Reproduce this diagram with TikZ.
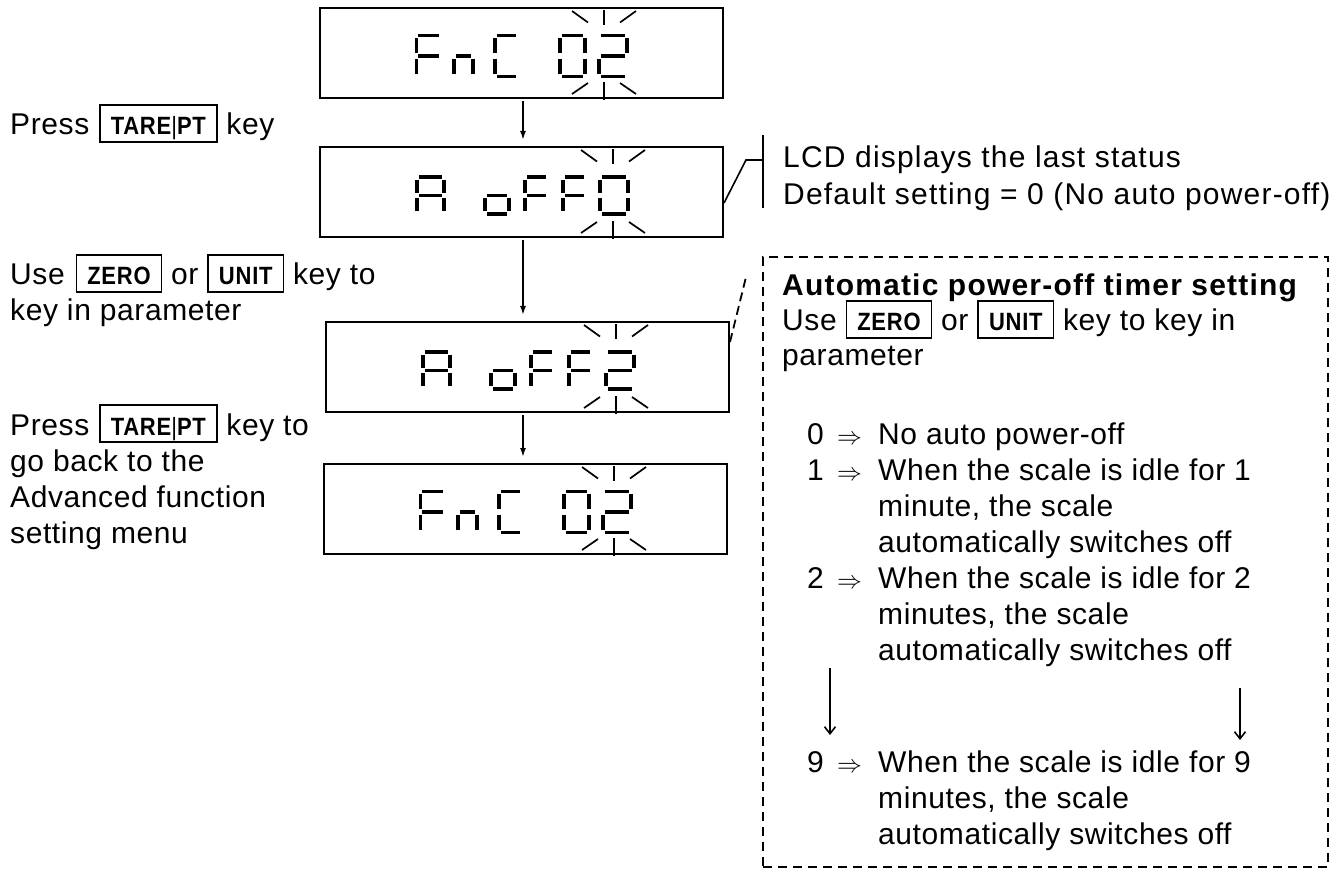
\documentclass[tikz,border=0pt]{standalone}
\usepackage{fontspec}
\setmainfont{Liberation Sans}[LetterSpace=2]
\newfontfamily\keyfont{Liberation Sans}[LetterSpace=3,FakeStretch=0.88]
\newfontfamily\widefont{Liberation Sans}[LetterSpace=4]
\usetikzlibrary{arrows.meta}

\newcommand{\kb}[1]{{\setlength{\fboxsep}{0pt}\setlength{\fboxrule}{1.6pt}\fbox{\rule[-6pt]{0pt}{35pt}\hspace{10pt}{\keyfont\bfseries\fontsize{25}{25}\selectfont #1}\hspace{10pt}}}}
\newcommand{\kbar}{{\mdseries|}}

% seven-segment pieces: x, top y, width, height
\newcommand{\sga}[4]{\draw[seg] ({#1+1.8},#2) -- ({#1+#3-1.8},#2);}
\newcommand{\sgb}[4]{\draw[seg] ({#1+#3},{#2+2.6}) -- ({#1+#3},{#2+#4/2-2.6});}
\newcommand{\sgc}[4]{\draw[seg] ({#1+#3},{#2+#4/2+2.6}) -- ({#1+#3},{#2+#4-2.6});}
\newcommand{\sgd}[4]{\draw[seg] ({#1+1.8},{#2+#4}) -- ({#1+#3-1.8},{#2+#4});}
\newcommand{\sge}[4]{\draw[seg] (#1,{#2+#4/2+2.6}) -- (#1,{#2+#4-2.6});}
\newcommand{\sgf}[4]{\draw[seg] (#1,{#2+2.6}) -- (#1,{#2+#4/2-2.6});}
\newcommand{\sgg}[4]{\draw[seg] ({#1+1.8},{#2+#4/2}) -- ({#1+#3-1.8},{#2+#4/2});}
\newcommand{\chr}[5]{\foreach \s in {#5} {\csname sg\s\endcsname{#1}{#2}{#3}{#4}}}

\newcommand{\FnCtxt}{%
 \chr{97.5}{28.5}{24}{41}{a,f,e,g}
 \chr{135}{28.5}{19}{41}{c,e,g}
 \chr{176}{28.5}{23}{41}{a,f,e,d}
 \chr{241}{28.5}{25}{41}{a,b,c,d,e,f}
 \chr{280}{28.5}{28}{41}{a,b,g,e,d}}
\newcommand{\Aofftxt}[1]{%
 \chr{98}{31}{27}{37}{a,b,c,e,f,g}
 \chr{166}{31}{24}{37}{c,d,e,g}
 \chr{206}{31}{23}{37}{a,f,e,g}
 \chr{244}{31}{23}{37}{a,f,e,g}
 \chr{281}{31}{28}{37}{#1}}
\newcommand{\blink}[1]{%
 \draw[blk] ({#1-32},4) -- ({#1-16},15.5);
 \draw[blk] (#1,3) -- (#1,18);
 \draw[blk] ({#1+16},15.5) -- ({#1+32},4);
 \draw[blk] ({#1-32},87) -- ({#1-16},76);
 \draw[blk] (#1,75) -- (#1,93);
 \draw[blk] ({#1+16},76) -- ({#1+32},87);}

\begin{document}
\begin{tikzpicture}[x=1pt,y=-1pt,
 lcdbox/.style={draw, line width=2pt, minimum width=403pt, minimum height=90pt, inner sep=0pt, anchor=north west},
 seg/.style={line width=3.4pt},
 blk/.style={line width=1.7pt},
 flow/.style={line width=1.7pt, -{Latex[length=9pt,width=6pt]}, shorten <=2pt, shorten >=6pt},
 callout/.style={line width=1.6pt},
 dcallout/.style={line width=1.8pt, dash pattern=on 9pt off 5pt},
 barb/.style={line width=1.6pt, -{Straight Barb[length=7pt,width=11pt]}},
 txt/.style={anchor=base west, inner sep=0pt, font=\fontsize{30}{36}\selectfont},
 wtxt/.style={txt, font=\widefont\fontsize{30}{36}\selectfont},
]
\useasboundingbox (0,0) rectangle (1341,882);

% LCD boxes
\node[lcdbox] (lcd1) at (319,7) {};
\node[lcdbox] (lcd2) at (319,146) {};
\node[lcdbox] (lcd3) at (325,321) {};
\node[lcdbox] (lcd4) at (323,463) {};

\begin{scope}[shift={(319,7)}] \FnCtxt \blink{285} \end{scope}
\begin{scope}[shift={(319,146)}] \Aofftxt{a,b,c,d,e,f} \blink{294} \end{scope}
\begin{scope}[shift={(325,321)}] \Aofftxt{a,b,g,e,d} \blink{291} \end{scope}
\begin{scope}[shift={(323,463)}] \FnCtxt \blink{291} \end{scope}

% flow arrows
\coordinate (ax) at (523,0);
\draw[flow] (lcd1.south -| ax) -- (lcd2.north -| ax);
\draw[flow] (lcd2.south -| ax) -- (lcd3.north -| ax);
\draw[flow] (lcd3.south -| ax) -- (lcd4.north -| ax);

% left texts
\node[txt] (t1) at (10,135) {Press\hspace{1pt} \kb{TARE\kbar PT} key};
\node[txt] (t2) at (10,285) {Use\hspace{2pt} \kb{ZERO} or \kb{UNIT} key to};
\node[txt] (t3) at (10,321) {key in parameter};
\node[txt] (t4) at (10,435) {Press\hspace{1pt} \kb{TARE\kbar PT} key to};
\node[txt] (t5) at (10,471) {go back to the};
\node[txt] (t6) at (10,507) {Advanced function};
\node[txt] (t7) at (10,543) {setting menu};

% status callout
\coordinate (cp) at (0,203);
\coordinate (c1) at (746,160);
\coordinate (c2) at (763,160);
\coordinate (b1) at (763,135);
\coordinate (b2) at (763,208);
\draw[callout] (lcd2.east |- cp) -- (c1) -- (c2);
\draw[callout] (b1) -- (b2);
\node[wtxt] (s1) at (783,168) {LCD displays the last status};
\node[wtxt] (s2) at (783,205) {Default setting = 0 (No auto power-off)};

% dashed box
\node[draw, line width=1.8pt, dash pattern=on 9pt off 6pt, minimum width=565pt, minimum height=610pt, inner sep=0pt, anchor=north west] (dbox) at (762,256) {};
\coordinate (cq) at (0,342);
\coordinate (cr) at (746,277);
\draw[dcallout] (lcd3.east |- cq) -- (cr);

\node[wtxt, font=\widefont\fontsize{30}{36}\selectfont\bfseries] (h1) at (782,296) {Automatic power-off timer setting};
\node[txt] (h2) at (782,331) {Use \kb{ZERO} or \kb{UNIT} key to key in};
\node[txt] (h3) at (782,366) {parameter};

\newcommand{\lead}[1]{\makebox[30pt][l]{#1}\makebox[41pt][l]{$\Rightarrow$}}
\node[txt] (r0) at (807,444) {\lead{0}No auto power-off};
\node[txt] (r1) at (807,480) {\lead{1}When the scale is idle for 1};
\node[txt] (r1b) at (878,516) {minute, the scale};
\node[txt] (r1c) at (878,552) {automatically switches off};
\node[txt] (r2) at (807,588) {\lead{2}When the scale is idle for 2};
\node[txt] (r2b) at (878,624) {minutes, the scale};
\node[txt] (r2c) at (878,660) {automatically switches off};
\node[txt] (r9) at (807,772) {\lead{9}When the scale is idle for 9};
\node[txt] (r9b) at (878,808) {minutes, the scale};
\node[txt] (r9c) at (878,844) {automatically switches off};

\coordinate (la1) at (830,668);
\coordinate (la2) at (830,735);
\coordinate (ra1) at (1240,688);
\coordinate (ra2) at (1240,740);
\draw[barb] (la1) -- (la2);
\draw[barb] (ra1) -- (ra2);
\end{tikzpicture}
\end{document}
